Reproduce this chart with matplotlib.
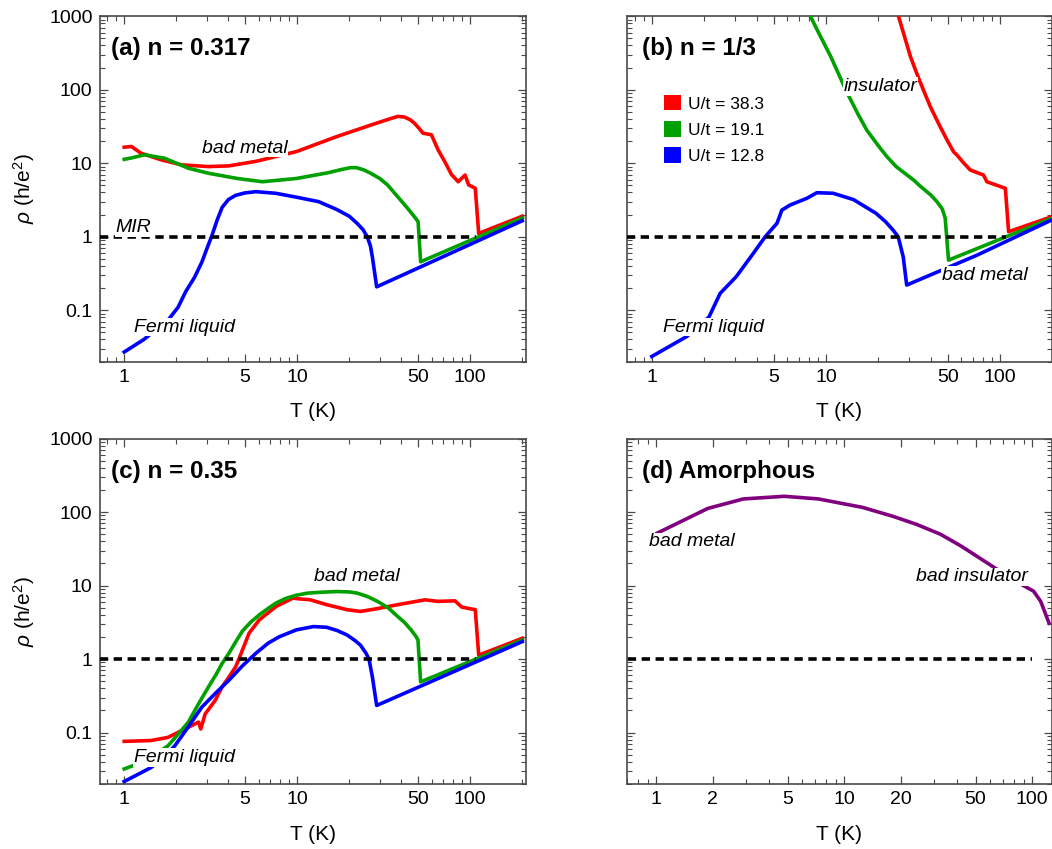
import numpy as np
import matplotlib
matplotlib.use("Agg")
import matplotlib.pyplot as plt
from matplotlib.patches import Patch
from matplotlib.ticker import LogLocator, NullFormatter

plt.rcParams['font.family'] = ['Liberation Sans', 'DejaVu Sans']
plt.rcParams['mathtext.fontset'] = 'custom'
plt.rcParams['mathtext.rm'] = 'Liberation Sans'
plt.rcParams['mathtext.it'] = 'Liberation Sans:italic'
plt.rcParams['lines.scale_dashes'] = False

# ---- data (T in K, rho in h/e^2) ----
# (a) n = 0.317
a_T_red = [1.0, 1.1, 1.25, 1.64, 2.15, 3.07, 4.03, 5.77, 9.9, 16.9, 26.6, 33, 38.1, 41.7, 45,
           47.6, 50.5, 53.3, 59.7, 65.2, 71.3, 78, 85.3, 93.4, 98, 107, 112, 200]
a_rho_red = [16.5, 16.9, 13.7, 11.1, 9.5, 9.0, 9.2, 10.6, 14.4, 23, 33, 39, 43.3, 42.5, 39,
             35, 30, 25.6, 24.4, 15.2, 10.5, 7.0, 5.6, 6.9, 5.06, 4.56, 1.11, 1.9]
a_T_green = [1.0, 1.1, 1.31, 1.71, 2.35, 3.07, 4.5, 6.31, 9.9, 15, 18, 20.3, 22, 24.3, 26.6,
             30, 33.3, 38.1, 43.5, 47.6, 50, 51.7, 200]
a_rho_green = [11.3, 11.8, 13.0, 11.7, 8.55, 7.3, 6.2, 5.6, 6.2, 7.4, 8.2, 8.7, 8.7, 8.1, 7.3,
               6.2, 5.06, 3.5, 2.43, 1.87, 1.6, 0.456, 1.8]
a_T_blue = [1.0, 1.3, 1.52, 1.79, 2.05, 2.27, 2.55, 2.81, 3.0, 3.22, 3.45, 3.68, 4.0, 4.4,
            5.0, 5.77, 7.5, 9.9, 13.3, 16.9, 20, 22.2, 24, 25.4, 26.5, 27.2, 28.8, 200]
a_rho_blue = [0.027, 0.040, 0.054, 0.073, 0.11, 0.18, 0.28, 0.45, 0.68, 1.05, 1.7, 2.5, 3.2,
              3.65, 3.95, 4.1, 3.9, 3.45, 3.0, 2.35, 1.9, 1.52, 1.25, 1.0, 0.75, 0.53, 0.208,
              1.65]

# (b) n = 1/3
b_T_red = [26.1, 30.6, 34, 36.3, 40, 45.3, 50, 54.1, 56.6, 62, 67.4, 80.4, 84, 107.3, 112, 198]
b_rho_red = [1000, 281, 145, 99, 57, 31.4, 20, 14.3, 12.9, 10.0, 8.1, 6.9, 5.6, 4.55, 1.17,
             1.87]
b_T_green = [8.14, 9, 10.6, 13.2, 15.4, 17.2, 20.1, 22.4, 25.3, 31.9, 34.7, 40, 43.4, 46.5,
             48.4, 50.6, 198]
b_rho_green = [1000, 620, 290, 92, 45, 28, 17, 12.3, 9.0, 5.9, 4.9, 3.7, 3.0, 2.4, 1.8, 0.48,
               1.78]
b_T_blue = [1.0, 1.59, 2.13, 2.47, 3.05, 3.84, 4.48, 5.23, 5.4, 5.58, 6.23, 7.77, 8.87, 11.0,
            14.4, 19.4, 22, 24.3, 26, 27.8, 29.1, 73.6, 198]
b_rho_blue = [0.0235, 0.044, 0.081, 0.17, 0.285, 0.6, 1.0, 1.52, 1.85, 2.3, 2.7, 3.33, 3.97,
              3.9, 3.2, 2.08, 1.6, 1.23, 1.0, 0.53, 0.22, 0.56, 1.69]

# (c) n = 0.35
c_T_red = [1.0, 1.43, 1.79, 2.35, 2.69, 2.77, 2.94, 3.36, 3.68, 4.03, 4.41, 4.6, 5.27, 6.04,
           7.55, 9.46, 10.2, 11.85, 14.8, 19.4, 23.2, 28.2, 38.1, 54.8, 65.2, 81.6, 89.4,
           107, 112, 200]
c_rho_red = [0.076, 0.078, 0.086, 0.118, 0.139, 0.112, 0.18, 0.275, 0.418, 0.57, 0.785, 1.0,
             2.25, 3.42, 5.2, 6.77, 6.6, 6.43, 5.5, 4.7, 4.45, 4.8, 5.5, 6.4, 6.1, 6.2, 5.1,
             4.7, 1.13, 1.92]
c_T_green = [1.0, 1.25, 1.5, 1.79, 2.05, 2.35, 2.7, 3.07, 3.4, 3.68, 4.03, 4.4, 4.82, 5.4,
             6.04, 6.8, 7.55, 8.6, 9.9, 11.5, 13.5, 16.9, 20, 22.2, 25.5, 29.1, 33.5, 38.1,
             42, 45.5, 48.5, 49.9, 51.7, 200]
c_rho_green = [0.032, 0.039, 0.05, 0.066, 0.095, 0.139, 0.25, 0.418, 0.62, 0.87, 1.2, 1.7,
               2.4, 3.2, 4.0, 4.9, 5.8, 6.7, 7.4, 7.9, 8.1, 8.3, 8.2, 7.9, 7.1, 6.1, 5.0,
               3.8, 3.1, 2.5, 2.05, 1.82, 0.49, 1.82]
c_T_blue = [1.0, 1.2, 1.43, 1.7, 1.96, 2.35, 2.81, 3.4, 4.03, 4.8, 5.77, 6.8, 7.9, 9.9, 12.4,
            14.8, 17, 19.4, 21.5, 23.2, 25, 26, 27.2, 28.8, 200]
c_rho_blue = [0.0216, 0.027, 0.0335, 0.046, 0.066, 0.12, 0.222, 0.35, 0.515, 0.8, 1.2, 1.65,
              2.02, 2.5, 2.77, 2.71, 2.45, 2.13, 1.8, 1.55, 1.2, 1.0, 0.573, 0.234, 1.73]

# (d) amorphous
d_T = [1.01, 1.38, 1.88, 2.91, 4.8, 7.3, 12.5, 18.2, 24.3, 32.5, 41.8, 63.1, 88, 101.7,
       111, 123]
d_rho = [51.5, 76, 112, 151, 164, 151, 116, 87.5, 68, 50, 34.6, 17.5, 10.3, 8.4, 6.1, 3.08]

# Mott-Ioffe-Regel limit
mir_T = [0.5, 108]
mir_T_d = [0.5, 100]
mir_rho = [1, 1]

labels_U = ['U/t = 38.3', 'U/t = 19.1', 'U/t = 12.8']
colors = ['#ff0000', '#00a000', '#0000ff']
purple = '#800080'

xticks_abc = [1, 5, 10, 50, 100]
xticks_d = [1, 2, 5, 10, 20, 50, 100]
yticks = [0.1, 1, 10, 100, 1000]
ytick_labels = ['0.1', '1', '10', '100', '1000']

fig = plt.figure(figsize=(10.52, 8.49), dpi=100)
ax_a = fig.add_axes([0.0946, 0.5741, 0.405, 0.4068])
ax_b = fig.add_axes([0.596, 0.5741, 0.4037, 0.4068])
ax_c = fig.add_axes([0.0946, 0.0766, 0.405, 0.4068])
ax_d = fig.add_axes([0.596, 0.0766, 0.4037, 0.4068])

frame_col = '#4a4a4a'


def style(ax, xticks, xlim, left_labels):
    ax.set_xscale('log')
    ax.set_yscale('log')
    ax.set_xlim(*xlim)
    ax.set_ylim(0.02, 1000)
    ax.set_xticks(xticks)
    ax.set_xticklabels([str(t) for t in xticks])
    ax.xaxis.set_minor_locator(LogLocator(base=10, subs=np.arange(2, 10), numticks=20))
    ax.xaxis.set_minor_formatter(NullFormatter())
    ax.set_yticks(yticks)
    ax.set_yticklabels(ytick_labels if left_labels else [])
    ax.yaxis.set_minor_locator(LogLocator(base=10, subs=np.arange(2, 10), numticks=20))
    ax.yaxis.set_minor_formatter(NullFormatter())
    ax.tick_params(which='both', direction='in', top=True, right=True,
                   color=frame_col, labelsize=14)
    ax.tick_params(which='major', length=6, width=0.9, pad=5)
    ax.tick_params(which='minor', length=3.5, width=0.8)
    for sp in ax.spines.values():
        sp.set_color(frame_col)
        sp.set_linewidth(1.2)
    ax.set_xlabel('T (K)', fontsize=15, labelpad=12)
    if left_labels:
        ax.set_ylabel(r'$\rho$ (h/e$^2$)', fontsize=15, labelpad=9)


def note(ax, x, y, s):
    ax.text(x, y, s, fontsize=14, style='italic', va='center', ha='left', zorder=5,
            bbox=dict(facecolor='white', edgecolor='none', pad=0.5))


lw = 2.6
title_kw = dict(fontsize=17.5, fontweight='bold', va='center')

# (a)
style(ax_a, xticks_abc, (0.72, 209), True)
ax_a.plot(a_T_red, a_rho_red, color=colors[0], lw=lw, zorder=3)
ax_a.plot(a_T_green, a_rho_green, color=colors[1], lw=lw, zorder=3)
ax_a.plot(a_T_blue, a_rho_blue, color=colors[2], lw=lw, zorder=3)
ax_a.plot(mir_T, mir_rho, color='black', lw=2.6, dashes=(6, 4), zorder=4)
ax_a.text(0.028, 0.907, '(a) n = 0.317', transform=ax_a.transAxes, **title_kw)
note(ax_a, 2.81, 16.0, 'bad metal')
note(ax_a, 0.894, 1.32, 'MIR')
note(ax_a, 1.14, 0.059, 'Fermi liquid')

# (b)
style(ax_b, xticks_abc, (0.72, 198), False)
ax_b.plot(b_T_red, b_rho_red, color=colors[0], lw=lw, zorder=3)
ax_b.plot(b_T_green, b_rho_green, color=colors[1], lw=lw, zorder=3)
ax_b.plot(b_T_blue, b_rho_blue, color=colors[2], lw=lw, zorder=3)
ax_b.plot(mir_T, mir_rho, color='black', lw=2.6, dashes=(6, 4), zorder=4)
ax_b.text(0.036, 0.907, '(b) n = 1/3', transform=ax_b.transAxes, **title_kw)
note(ax_b, 12.6, 111, 'insulator')
note(ax_b, 46.5, 0.30, 'bad metal')
note(ax_b, 1.16, 0.059, 'Fermi liquid')
handles = [Patch(facecolor=c, edgecolor='none') for c in colors]
ax_b.legend(handles, labels_U, loc='upper left', bbox_to_anchor=(0.087, 0.772),
            frameon=False, fontsize=12.5, handlelength=1.0, handleheight=1.0,
            handletextpad=0.4, labelspacing=0.55, borderpad=0, borderaxespad=0)

# (c)
style(ax_c, xticks_abc, (0.72, 209), True)
ax_c.plot(c_T_red, c_rho_red, color=colors[0], lw=lw, zorder=3)
ax_c.plot(c_T_green, c_rho_green, color=colors[1], lw=lw, zorder=3)
ax_c.plot(c_T_blue, c_rho_blue, color=colors[2], lw=lw, zorder=3)
ax_c.plot(mir_T, mir_rho, color='black', lw=2.6, dashes=(6, 4), zorder=4)
ax_c.text(0.028, 0.904, '(c) n = 0.35', transform=ax_c.transAxes, **title_kw)
note(ax_c, 12.5, 13.4, 'bad metal')
note(ax_c, 1.14, 0.046, 'Fermi liquid')

# (d)
style(ax_d, xticks_d, (0.70, 127), False)
ax_d.plot(d_T, d_rho, color=purple, lw=lw, zorder=3)
ax_d.plot(mir_T_d, mir_rho, color='black', lw=2.6, dashes=(6, 4), zorder=4)
ax_d.text(0.036, 0.904, '(d) Amorphous', transform=ax_d.transAxes, **title_kw)
note(ax_d, 0.92, 39.2, 'bad metal')
note(ax_d, 24.1, 13.1, 'bad insulator')

fig.savefig('out.png', dpi=100)
